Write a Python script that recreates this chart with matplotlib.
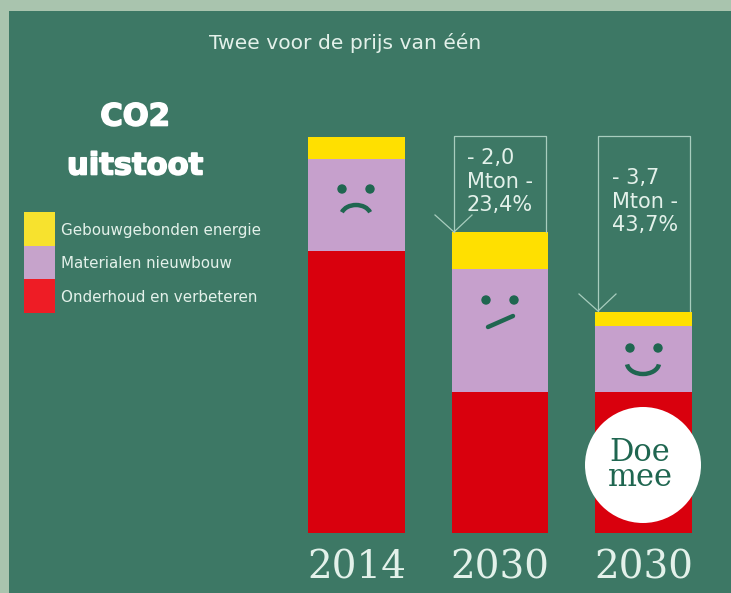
import matplotlib
matplotlib.use("Agg")
import matplotlib.pyplot as plt
import matplotlib.patheffects as pe
from matplotlib.patches import Rectangle, Circle, Arc

W, H = 731, 593

# waarden in Mton
years = ["2014", "2030", "2030"]
onderhoud = [6.03, 3.02, 3.02]
materialen = [1.97, 2.63, 1.41]
gebouw = [0.47, 0.79, 0.30]
legend_labels = ["Gebouwgebonden energie", "Materialen nieuwbouw", "Onderhoud en verbeteren"]
callouts = ["- 2,0\nMton -\n23,4%", "- 3,7\nMton -\n43,7%"]

BG = "#3D7865"
EDGE = "#A9C4AE"
LINE = "#A8CDBE"
TEXT = "#E3F1EA"
DARK = "#1F6650"

fig = plt.figure(figsize=(W / 100, H / 100), dpi=100, facecolor=EDGE)


# as in pixel-coordinaten van de figuur, voor alles wat geen staaf is
def pixel_axes(zorder):
    a = fig.add_axes([0, 0, 1, 1], zorder=zorder)
    a.set_xlim(0, W)
    a.set_ylim(H, 0)
    a.axis("off")
    return a


back = pixel_axes(0)
back.add_patch(Rectangle((9, 11), W, H, color=BG, lw=0))

# staven
ax = fig.add_axes([308 / W, (H - 533) / H, 384 / W, 396 / H], zorder=1)
ax.patch.set_alpha(0)
x = [0, 1, 2]
bar_w = 0.674
bottom2 = [a + b for a, b in zip(onderhoud, materialen)]
ax.bar(x, onderhoud, bar_w, color="#D9000D")
ax.bar(x, materialen, bar_w, bottom=onderhoud, color="#C6A0CC")
ax.bar(x, gebouw, bar_w, bottom=bottom2, color="#FFE000")
ax.set_xlim(-0.337, 2.337)
ax.set_ylim(0, 8.47)
ax.set_xticks(x)
ax.set_xticklabels(years, family="DejaVu Serif", fontsize=28, color=TEXT)
ax.tick_params(axis="x", length=0, pad=12)
ax.set_yticks([])
for s in ax.spines.values():
    s.set_visible(False)

top = pixel_axes(2)
top.text(345, 43, "Twee voor de prijs van één", color=TEXT, fontsize=14.6,
         ha="center", va="center")
heavy = [pe.withStroke(linewidth=1.2, foreground="white")]
top.text(135, 117, "CO2", color="white", fontsize=22, fontweight="bold", ha="center",
         va="center", path_effects=heavy)
top.text(135, 166, "uitstoot", color="white", fontsize=22, fontweight="bold", ha="center",
         va="center", path_effects=heavy)

# legenda
swatches = ["#F7E22E", "#C6A3CB", "#EE1C25"]
for i, (lab, col) in enumerate(zip(legend_labels, swatches)):
    y0 = 212 + i * 33.7
    top.add_patch(Rectangle((24, y0), 31, 33.7, color=col, lw=0))
    top.text(61, y0 + 18, lab, color=TEXT, fontsize=10.9, va="center")

# kaders met pijltjes
boxes = [(454, 546, 232, 467, 0), (598, 690, 311, 612, 20)]
for (x0, x1, yb, tx, dy), txt in zip(boxes, callouts):
    top.plot([x0, x0, x1, x1], [yb, 136, 136, yb], color=LINE, lw=0.9)
    top.plot([x0 - 19, x0, x0 + 18], [yb - 17, yb, yb - 17], color=LINE, lw=0.9)
    top.text(tx, 148 + dy, txt, color=TEXT, fontsize=15, va="top", linespacing=1.22)

# gezichtjes
for ex in [342, 370]:
    top.add_patch(Circle((ex, 189), 4.7, color=DARK, lw=0))
top.add_patch(Arc((356, 216), 30, 22, theta1=195, theta2=345, color=DARK, lw=3.2))
for ex in [486, 514]:
    top.add_patch(Circle((ex, 300), 4.7, color=DARK, lw=0))
top.plot([488, 513], [327, 316], color=DARK, lw=3.2, solid_capstyle="round")
for ex in [630, 658]:
    top.add_patch(Circle((ex, 348), 4.7, color=DARK, lw=0))
top.add_patch(Arc((643, 363), 32, 22, theta1=5, theta2=175, color=DARK, lw=3.2))

# Doe mee sticker
top.add_patch(Circle((643, 465), 58, color="white", lw=0))
top.text(640, 465, "Doe\nmee", color=DARK, family="DejaVu Serif", fontsize=22,
         ha="center", va="center", linespacing=0.72)

fig.savefig("out.png", dpi=100, facecolor=fig.get_facecolor())
